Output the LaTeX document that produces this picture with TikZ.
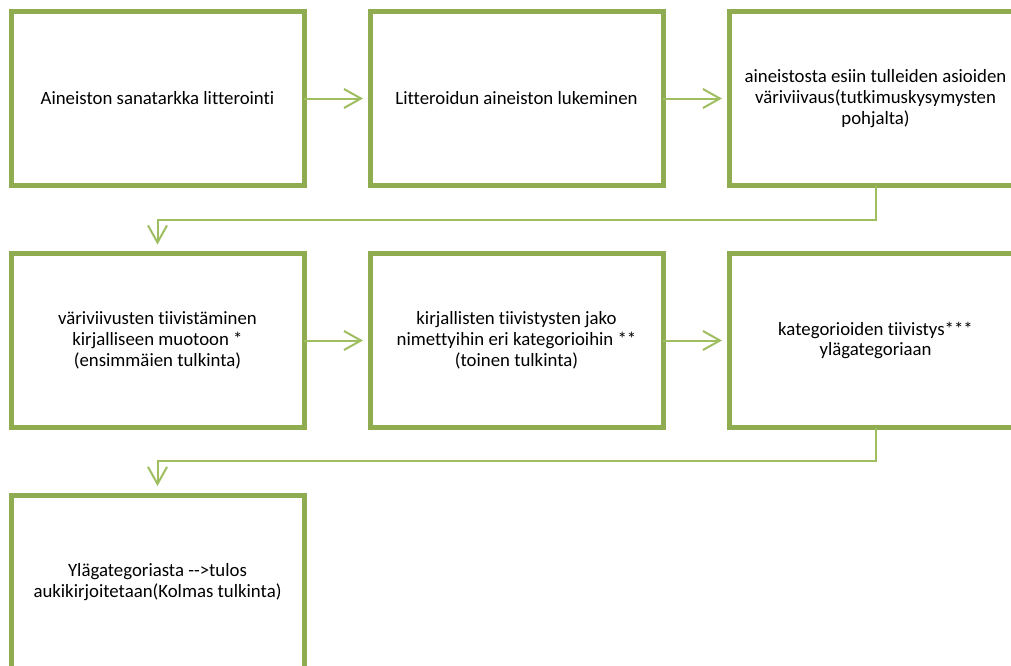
\documentclass[tikz,border=0pt]{standalone}
\usepackage{fontspec}
\setmainfont{Carlito}[Ligatures={TeX,NoCommon}]
\usepackage{tikz}
\usetikzlibrary{arrows.meta, positioning}
\usepackage{xcolor}
\definecolor{boxgreen}{RGB}{143,172,80}
\definecolor{linkgreen}{RGB}{158,190,96}

\begin{document}
\begin{tikzpicture}[x=1pt, y=1pt,
		stepbox/.style={draw=boxgreen, line width=5pt, fill=white, minimum width=293pt, minimum height=174pt, outer sep=0pt, align=center, font=\fontsize{18.8}{20.8}\selectfont},
		link/.style={draw=linkgreen, line width=2pt, -{Straight Barb[length=17pt, width=19pt]}, shorten >=7pt}]
	\clip (0,0) rectangle (1011,-665);
	\node [stepbox] (litterointi) at (157.5,-98.5) {Aineiston sanatarkka litterointi};
	\node [stepbox, right=66pt of litterointi] (lukeminen) {Litteroidun aineiston lukeminen};
	\node [stepbox, right=66pt of lukeminen] (viivaus) {aineistosta esiin tulleiden asioiden\\väriviivaus(tutkimuskysymysten\\pohjalta)};
	\node [stepbox, below=68pt of litterointi] (tiivistys) {väriviivusten tiivistäminen\\kirjalliseen muotoon *\\(ensimmäien tulkinta)};
	\node [stepbox, right=66pt of tiivistys] (jako) {kirjallisten tiivistysten jako\\nimettyihin eri kategorioihin **\\(toinen tulkinta)};
	\node [stepbox, right=66pt of jako] (kategoriat) {kategorioiden tiivistys***\\ylägategoriaan};
	\node [stepbox, below=67.5pt of tiivistys] (tulos) {Ylägategoriasta -{}->tulos\\aukikirjoitetaan(Kolmas tulkinta)};
	% nuolet
	\draw [link] (litterointi) -- (lukeminen);
	\draw [link] (lukeminen) -- (viivaus);
	\draw [link] (tiivistys) -- (jako);
	\draw [link] (jako) -- (kategoriat);
	\draw [link, shorten >=9pt] (viivaus.south) -- ++(0,-34.5) -| (tiivistys.north);
	\draw [link, shorten >=9pt] (kategoriat.south) -- ++(0,-33.5) -| (tulos.north);
\end{tikzpicture}
\end{document}
